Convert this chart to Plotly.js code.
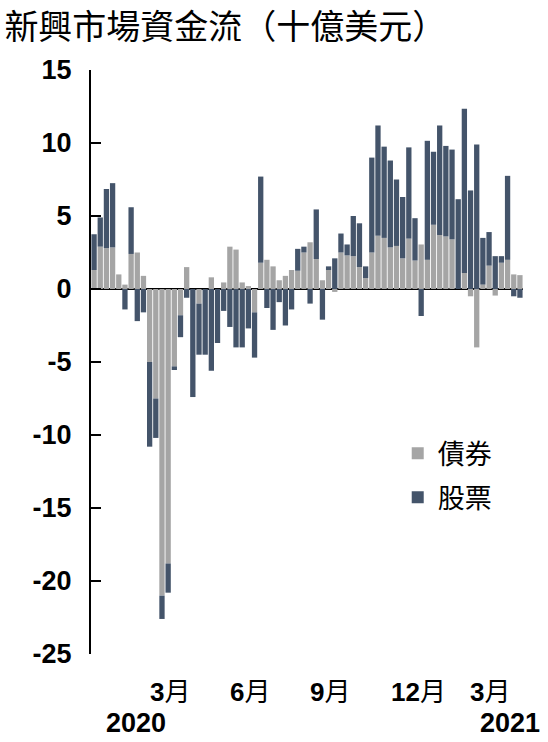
<!DOCTYPE html>
<html>
<head>
<meta charset="utf-8">
<script src="https://cdn.plot.ly/plotly-3.0.1.min.js"></script>
<style>
  html, body { margin: 0; padding: 0; background: #ffffff; }
  #chart { width: 548px; height: 742px; }
</style>
</head>
<body>
<div id="chart"></div>
<script>
// Weekly dates (one bar per week)
const weeks = [
  '2020-01-01','2020-01-08','2020-01-15','2020-01-22','2020-01-29','2020-02-05','2020-02-12','2020-02-19','2020-02-26','2020-03-04',
  '2020-03-11','2020-03-18','2020-03-25','2020-04-01','2020-04-08','2020-04-15','2020-04-22','2020-04-29','2020-05-06','2020-05-13',
  '2020-05-20','2020-05-27','2020-06-03','2020-06-10','2020-06-17','2020-06-24','2020-07-01','2020-07-08','2020-07-15','2020-07-22',
  '2020-07-29','2020-08-05','2020-08-12','2020-08-19','2020-08-26','2020-09-02','2020-09-09','2020-09-16','2020-09-23','2020-09-30',
  '2020-10-07','2020-10-14','2020-10-21','2020-10-28','2020-11-04','2020-11-11','2020-11-18','2020-11-25','2020-12-02','2020-12-09',
  '2020-12-16','2020-12-23','2020-12-30','2021-01-06','2021-01-13','2021-01-20','2021-01-27','2021-02-03','2021-02-10','2021-02-17',
  '2021-02-24','2021-03-03','2021-03-10','2021-03-17','2021-03-24','2021-03-31','2021-04-07','2021-04-14','2021-04-21','2021-04-28'
];

// 債券 (bonds), billions USD
const bonds = [
  1.3, 2.9, 2.8, 2.85, 1.0, 0.3, 2.4, 2.5, 0.9, -5.0,
  -7.5, -21.0, -18.8, -5.3, -1.8, 1.5, 0, -1.0, 0, 0.8,
  0, 0.45, 2.9, 2.7, 0.45, 0.2, -1.6, 1.8, 2.0, 1.55,
  0.6, 0.9, 1.3, 1.25, 2.5, 3.2, 2.05, 0.6, 1.3, -0.2,
  2.5, 2.3, 2.25, 1.5, 0.75, 2.5, 3.65, 3.5, 2.85, 2.95,
  2.1, 3.45, 1.95, 3.05, 2.0, 4.4, 3.7, 3.6, 3.4, 0,
  1.1, -0.5, -4.0, 0.3, 1.6, -0.45, 1.8, 2.0, 1.0, 0.95
];

// 股票 (equities), billions USD
const equities = [
  2.45, 2.0, 4.05, 4.4, 0, -1.4, 3.2, -2.2, -1.6, -5.8,
  -2.7, -1.6, -2.0, -0.25, -1.5, -0.6, -7.4, -3.5, -4.5, -5.6,
  -3.7, -1.5, -2.6, -4.0, -4.0, -2.7, -3.1, 5.9, -1.3, -2.8,
  -0.9, -2.5, -1.4, 1.5, 0.4, -1.0, 3.4, -2.1, 0.25, 2.1,
  1.3, 0.75, 2.75, 3.0, 0.8, 6.5, 7.55, 6.25, 5.95, 4.55,
  4.2, 6.25, 2.9, -1.85, 8.15, 5.0, 7.5, 6.2, 6.15, 6.15,
  11.25, 6.75, 9.9, 3.2, 2.3, 2.25, 0.45, 5.75, -0.5, -0.6
];

const seriesNames = ['債券', '股票'];
const titleText = '新興市場資金流（十億美元）';

const yTicks = [-25, -20, -15, -10, -5, 0, 5, 10, 15];
const monthLabels = ['3', '6', '9', '12', '3'];
const monthDates = ['2020-03-27', '2020-06-26', '2020-09-25', '2021-01-03', '2021-03-25'];
const yearLabels = ['2020', '2021'];
const yearDates = ['2020-02-17', '2021-04-17'];

const GRAY = '#a5a5a5';
const NAVY = '#44546a';
const BOLD_FONT = '"Liberation Sans", Arial, "Noto Sans CJK TC", sans-serif';
const CJK_FONT = '"Noto Sans CJK TC", "Noto Sans CJK SC", sans-serif';

const traces = [
  { type: 'bar', x: weeks, y: bonds, name: seriesNames[0], legendgroup: 'b',
    marker: { color: GRAY, line: { width: 0 } } },
  { type: 'bar', x: weeks, y: equities, name: seriesNames[1], legendgroup: 'e',
    marker: { color: NAVY, line: { width: 0 } } }
];

const annotations = [];
monthLabels.forEach((m, i) => {
  annotations.push({
    xref: 'x', yref: 'paper', x: monthDates[i], y: 0,
    xanchor: 'center', yanchor: 'middle', yshift: -38,
    text: '<b>' + m + '</b>月', showarrow: false,
    font: { family: BOLD_FONT, size: 26, color: '#000' }
  });
});
yearLabels.forEach((yl, i) => {
  annotations.push({
    xref: 'x', yref: 'paper', x: yearDates[i], y: 0,
    xanchor: 'center', yanchor: 'middle', yshift: -69,
    text: '<b>' + yl + '</b>', showarrow: false,
    font: { family: BOLD_FONT, size: 27, color: '#000' }
  });
});

const layout = {
  width: 548, height: 742,
  margin: { l: 91, r: 25, t: 70, b: 88, pad: 0 },
  paper_bgcolor: '#ffffff', plot_bgcolor: '#ffffff',
  barmode: 'relative', bargap: 0.14,
  showlegend: true,
  title: {
    text: titleText, xref: 'container', yref: 'container',
    x: 0.008, xanchor: 'left', y: 1 - 27 / 742, yanchor: 'middle',
    font: { family: CJK_FONT, size: 34, color: '#000' }
  },
  legend: {
    x: 0.71, y: 0.385, xanchor: 'left', yanchor: 'top',
    traceorder: 'grouped', tracegroupgap: 6,
    font: { family: CJK_FONT, size: 27, color: '#000' },
    bgcolor: 'rgba(0,0,0,0)'
  },
  xaxis: {
    type: 'date',
    range: ['2019-12-28 12:00', '2021-05-01 12:00'],
    showgrid: false, zeroline: false, showline: false,
    showticklabels: false, ticks: ''
  },
  yaxis: {
    range: [-25, 15], tickvals: yTicks, ticktext: yTicks.map(String),
    showgrid: false, showline: true, linecolor: '#000', linewidth: 2,
    ticks: 'inside', ticklen: 10, tickwidth: 2, tickcolor: '#000',
    ticklabelstandoff: 12,
    zeroline: true, zerolinecolor: '#000', zerolinewidth: 2,
    layer: 'above traces',
    tickfont: { family: BOLD_FONT, size: 27, color: '#000', weight: 'bold' }
  },
  annotations: annotations
};

Plotly.newPlot('chart', traces, layout, { displayModeBar: false, staticPlot: true });
</script>
</body>
</html>
